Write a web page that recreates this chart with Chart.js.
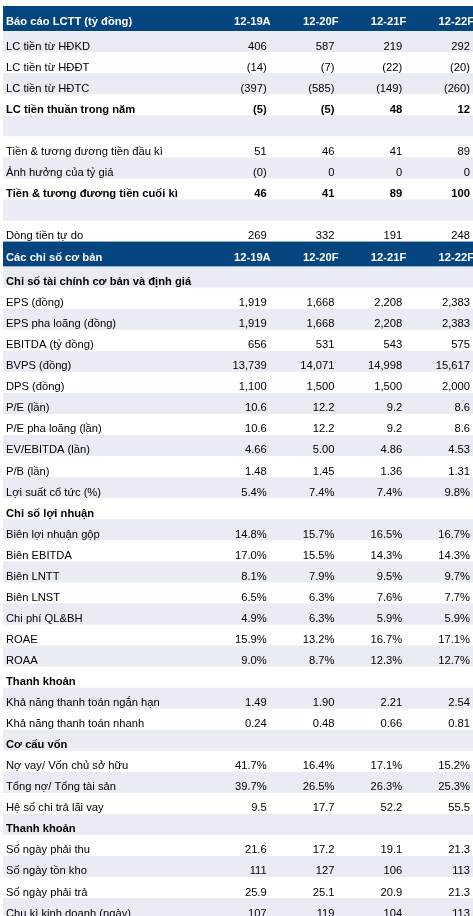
<!DOCTYPE html>
<html>
<head>
<meta charset="utf-8">
<script src="https://cdn.jsdelivr.net/npm/chart.js@4/dist/chart.umd.min.js"></script>
<style>
  html, body { margin: 0; padding: 0; background: #fff; }
  canvas { display: block; }
</style>
</head>
<body>
<canvas id="tbl" width="473" height="916"></canvas>
<script>
// Cot nam
const columns = ['12-19A', '12-20F', '12-21F', '12-22F'];

// Bao cao luu chuyen tien te
const cashflowTitle = 'Báo cáo LCTT (tỷ đồng)';
const cashflowLabels = [
  'LC tiền từ HĐKD', 'LC tiền từ HĐĐT', 'LC tiền từ HĐTC', 'LC tiền thuần trong năm', '',
  'Tiền & tương đương tiền đầu kì', 'Ảnh hưởng của tỷ giá', 'Tiền & tương đương tiền cuối kì', '',
  'Dòng tiền tự do'
];
const cashflowValues = [
  [406, 587, 219, 292],
  [-14, -7, -22, -20],
  [-397, -585, -149, -260],
  [-5, -5, 48, 12],
  null,
  [51, 46, 41, 89],
  [-0.2, 0, 0, 0],
  [46, 41, 89, 100],
  null,
  [269, 332, 191, 248]
];

// Cac chi so co ban
const ratioTitle = 'Các chỉ số cơ bản';
const ratioLabels = [
  'Chỉ số tài chính cơ bản và định giá',
  'EPS (đồng)', 'EPS pha loãng (đồng)', 'EBITDA (tỷ đồng)', 'BVPS (đồng)', 'DPS (đồng)',
  'P/E (lần)', 'P/E pha loãng (lần)', 'EV/EBITDA (lần)', 'P/B (lần)', 'Lợi suất cổ tức (%)',
  'Chỉ số lợi nhuận',
  'Biên lợi nhuận gộp', 'Biên EBITDA', 'Biên LNTT', 'Biên LNST', 'Chi phí QL&BH', 'ROAE', 'ROAA',
  'Thanh khoản',
  'Khả năng thanh toán ngắn hạn', 'Khả năng thanh toán nhanh',
  'Cơ cấu vốn',
  'Nợ vay/ Vốn chủ sở hữu', 'Tổng nợ/ Tổng tài sản', 'Hệ số chi trả lãi vay',
  'Thanh khoản',
  'Số ngày phải thu', 'Số ngày tồn kho', 'Số ngày phải trả', 'Chu kì kinh doanh (ngày)'
];
const ratioValues = [
  null,
  [1919, 1668, 2208, 2383],
  [1919, 1668, 2208, 2383],
  [656, 531, 543, 575],
  [13739, 14071, 14998, 15617],
  [1100, 1500, 1500, 2000],
  [10.6, 12.2, 9.2, 8.6],
  [10.6, 12.2, 9.2, 8.6],
  [4.66, 5.00, 4.86, 4.53],
  [1.48, 1.45, 1.36, 1.31],
  [5.4, 7.4, 7.4, 9.8],
  null,
  [14.8, 15.7, 16.5, 16.7],
  [17.0, 15.5, 14.3, 14.3],
  [8.1, 7.9, 9.5, 9.7],
  [6.5, 6.3, 7.6, 7.7],
  [4.9, 6.3, 5.9, 5.9],
  [15.9, 13.2, 16.7, 17.1],
  [9.0, 8.7, 12.3, 12.7],
  null,
  [1.49, 1.90, 2.21, 2.54],
  [0.24, 0.48, 0.66, 0.81],
  null,
  [41.7, 16.4, 17.1, 15.2],
  [39.7, 26.5, 26.3, 25.3],
  [9.5, 17.7, 52.2, 55.5],
  null,
  [21.6, 17.2, 19.1, 21.3],
  [111, 127, 106, 113],
  [25.9, 25.1, 20.9, 21.3],
  [107, 119, 104, 113]
];
// n0 = so nguyen, n1/n2 = so thap phan, p1 = phan tram
const ratioFormats = [
  '', 'n0', 'n0', 'n0', 'n0', 'n0', 'n1', 'n1', 'n2', 'n2', 'p1',
  '', 'p1', 'p1', 'p1', 'p1', 'p1', 'p1', 'p1',
  '', 'n2', 'n2',
  '', 'p1', 'p1', 'n1',
  '', 'n1', 'n0', 'n1', 'n0'
];

// Kieu dang
const BLUE = '#05457f';
const SHADE = '#e9ecf4';
const FONT = '"Liberation Sans", Arial, sans-serif';
const FONT_SIZE = 11.2;
const HEAD_W = 25 / 21;   // header cao hon dong thuong
const BOLD_ROWS = ['LC tiền thuần trong năm', 'Tiền & tương đương tiền cuối kì'];

function fmt(v, f) {
  if (f === 'n0') {
    const s = Math.abs(Math.round(v)).toLocaleString('en-US');
    return v < 0 ? '(' + s + ')' : s;
  }
  if (f === 'n1') return v.toFixed(1);
  if (f === 'n2') return v.toFixed(2);
  if (f === 'p1') return v.toFixed(1) + '%';
  return String(v);
}

// Ghep cac dong cua bang
const rows = [];
function addSection(title, labels, values, formats) {
  rows.push({ head: true, label: title });
  labels.forEach((l, i) => rows.push({ label: l, values: values[i], fmt: formats[i], shade: i % 2 === 0 }));
}
addSection(cashflowTitle, cashflowLabels, cashflowValues, cashflowLabels.map(() => 'n0'));
addSection(ratioTitle, ratioLabels, ratioValues, ratioFormats);

let pos = 0;
for (const r of rows) {
  r.top = pos;
  pos += r.head ? HEAD_W : 1;
  r.bottom = pos;
}

const tablePlugin = {
  id: 'tablePlugin',
  beforeDatasetsDraw(chart) {
    const ctx = chart.ctx;
    const xs = chart.scales.x;
    const ys = chart.scales.y;
    const left = xs.getPixelForValue(xs.min);
    const right = xs.getPixelForValue(xs.max);
    ctx.save();
    for (const r of rows) {
      const y0 = ys.getPixelForValue(r.top);
      const y1 = ys.getPixelForValue(r.bottom);
      if (r.head || r.shade) {
        ctx.fillStyle = r.head ? BLUE : SHADE;
        ctx.fillRect(left, y0, right - left, y1 - y0);
      }
      const bold = r.head || BOLD_ROWS.includes(r.label) || (!r.values && r.label);
      ctx.font = (bold ? 'bold ' : '') + FONT_SIZE + 'px ' + FONT;
      ctx.fillStyle = r.head ? '#ffffff' : '#000000';
      ctx.textBaseline = 'alphabetic';
      const base = r.head ? y1 - 6 : y1 - 2.6;
      ctx.textAlign = 'left';
      ctx.fillText(r.label, left + 3, base);
      ctx.textAlign = 'right';
      if (r.head) {
        columns.forEach((c, i) => ctx.fillText(c, xs.getPixelForValue(i + 1) + 4, base));
      } else if (r.values) {
        r.values.forEach((v, i) => ctx.fillText(fmt(v, r.fmt), xs.getPixelForValue(i + 1), base));
      }
    }
    ctx.restore();
  }
};

new Chart(document.getElementById('tbl'), {
  type: 'scatter',
  data: { datasets: [] },
  options: {
    responsive: false,
    devicePixelRatio: 1,
    animation: false,
    events: [],
    layout: { padding: { top: 6, left: 3, right: 0, bottom: 0 } },
    scales: {
      x: { type: 'linear', min: -2.891, max: 4.044, display: false },
      y: { type: 'linear', reverse: true, min: 0, max: 43.23, display: false }
    },
    plugins: { legend: { display: false }, tooltip: { enabled: false } }
  },
  plugins: [tablePlugin]
});
</script>
</body>
</html>
